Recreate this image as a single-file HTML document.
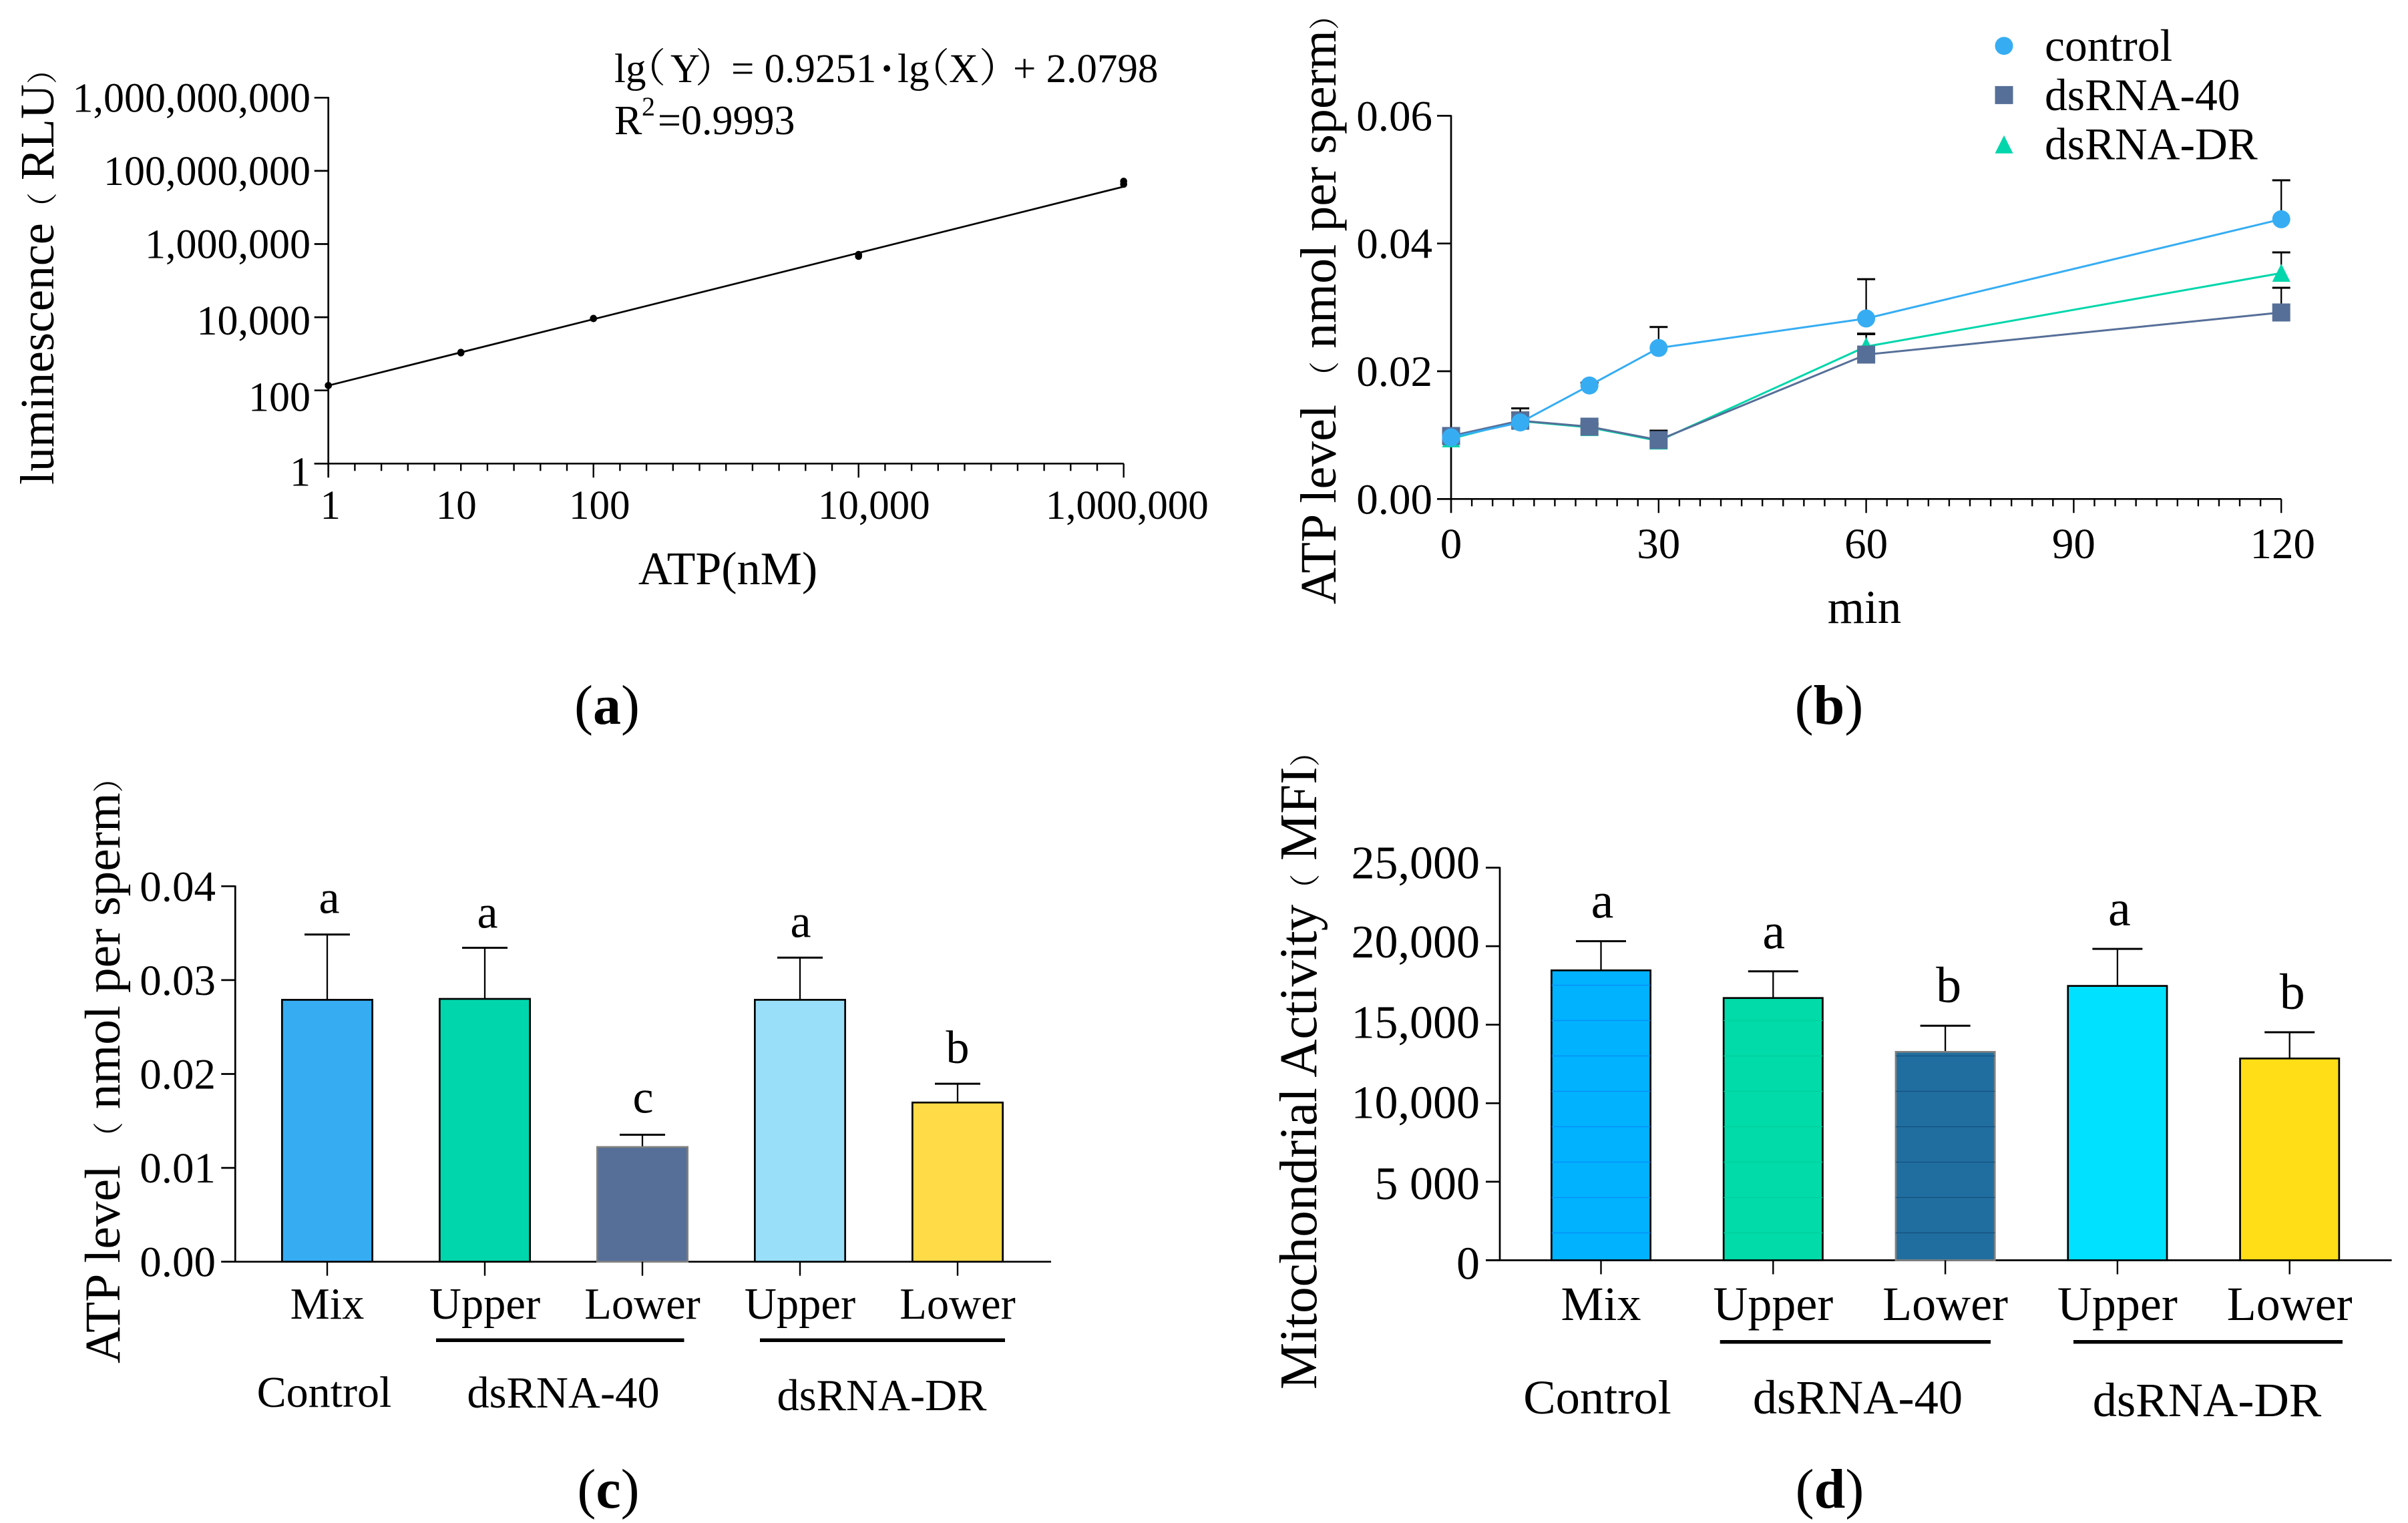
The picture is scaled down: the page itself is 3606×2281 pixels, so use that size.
<!DOCTYPE html>
<html lang="en">
<head>
<meta charset="utf-8">
<title>ATP standard curve and sperm energy panels</title>
<style>
html,body{margin:0;padding:0;background:#fff;}
svg{display:block;}
text{font-family:"Liberation Serif","Noto Serif CJK SC",serif;fill:#000;}
</style>
</head>
<body>
<svg id="fig" xmlns="http://www.w3.org/2000/svg" width="3606" height="2281" viewBox="0 0 3606 2281">
  <rect width="3606" height="2281" fill="#fff"/>

  <g id="panelA">
    <text transform="translate(80,726) rotate(-90)" font-size="72">luminescence<tspan font-size="46">（</tspan> RLU<tspan font-size="46">）</tspan></text>
    <text x="1090" y="875" font-size="70" text-anchor="middle">ATP(nM)</text>
    <text y="123" font-size="61"><tspan x="920">lg</tspan><tspan x="937" font-size="60">（</tspan><tspan x="1004">Y</tspan><tspan x="1041" font-size="60">）</tspan><tspan x="1095">= 0.9251</tspan><tspan x="1318" font-weight="bold">·</tspan><tspan x="1344">lg</tspan><tspan x="1362" font-size="60">（</tspan><tspan x="1421">X</tspan><tspan x="1466" font-size="60">）</tspan><tspan x="1517">+ 2.0798</tspan></text>
    <text y="201" font-size="62"><tspan x="920">R</tspan><tspan x="961" y="173" font-size="40">2</tspan><tspan x="985" y="201">=0.9993</tspan></text>
    <text x="909" y="1084" font-size="84" text-anchor="middle">(<tspan font-weight="bold">a</tspan>)</text>
  </g>

  <g id="panelB">
    <text transform="translate(2000,905) rotate(-90)" font-size="76">ATP level <tspan font-size="46">（</tspan> nmol per sperm<tspan font-size="46">）</tspan></text>
    <text x="2792" y="933" font-size="71" text-anchor="middle">min</text>
    <text x="2739" y="1084" font-size="84" text-anchor="middle">(<tspan font-weight="bold">b</tspan>)</text>
  </g>

  <g id="panelC">
    <text transform="translate(179,2042) rotate(-90)" font-size="75.5">ATP level <tspan font-size="46">（</tspan> nmol per sperm<tspan font-size="46">）</tspan></text>
    <text x="485.5" y="2107" font-size="66" text-anchor="middle">Control</text>
    <text x="843.5" y="2108" font-size="66.5" text-anchor="middle">dsRNA-40</text>
    <text x="1320.5" y="2112" font-size="66.5" text-anchor="middle">dsRNA-DR</text>
    <rect x="653" y="2004.5" width="371.5" height="5.5"/>
    <rect x="1138" y="2004.5" width="367" height="5.5"/>
    <text x="911" y="2258" font-size="84" text-anchor="middle">(<tspan font-weight="bold">c</tspan>)</text>
  </g>

  <g id="panelD">
    <text transform="translate(1971,2081) rotate(-90)" font-size="79">Mitochondrial Activity<tspan font-size="46">（</tspan> MFI<tspan font-size="46">）</tspan></text>
    <text x="2392" y="2117" font-size="72.5" text-anchor="middle">Control</text>
    <text x="2782" y="2117" font-size="72.5" text-anchor="middle">dsRNA-40</text>
    <text x="3305" y="2121" font-size="72.5" text-anchor="middle">dsRNA-DR</text>
    <rect x="2575.7" y="2007" width="405.3" height="5.5"/>
    <rect x="3105" y="2007" width="403" height="5.5"/>
    <text x="2740" y="2258" font-size="84" text-anchor="middle">(<tspan font-weight="bold">d</tspan>)</text>
  </g>
</svg>

<script>
/* ---------- Panel a data ---------- */
const atpDoses = [1, 10, 100, 10000, 1000000];
const lumReplicateA = [136, 1060, 9300, 520000, 52000000];
const lumReplicateB = [136, 1100, 9150, 460000, 43000000];
const fitSlope = 0.906;
const fitIntercept = 2.133;
const aXTicks = [1, 10, 100, 10000, 1000000];
const aXTickLabels = ["1", "10", "100", "10,000", "1,000,000"];
const aYTicks = [1, 100, 10000, 1000000, 100000000, 10000000000];
const aYTickLabels = ["1", "100", "10,000", "1,000,000", "100,000,000", "1,000,000,000"];

/* ---------- Panel b data ---------- */
const minutes = [0, 10, 20, 30, 60, 120];
const controlMean = [0.00965, 0.01198, 0.01777, 0.02364, 0.02826, 0.0438];
const controlTop = [0.0102, 0.0125, 0.0182, 0.02693, 0.03442, 0.0499];
const dsrna40Mean = [0.00986, 0.01226, 0.01132, 0.00923, 0.02261, 0.0292];
const dsrna40Top = [0.0103, 0.01418, 0.0118, 0.0107, 0.0259, 0.03307];
const dsrnaDrMean = [0.00944, 0.0122, 0.0112, 0.0091, 0.02387, 0.03537];
const dsrnaDrTop = [0.0099, 0.01355, 0.0117, 0.0105, 0.0258, 0.03861];
const bXTicks = [0, 30, 60, 90, 120];
const bYTicks = [0, 0.02, 0.04, 0.06];
const bYTickLabels = ["0.00", "0.02", "0.04", "0.06"];
const legendNames = ["control", "dsRNA-40", "dsRNA-DR"];

/* ---------- Panel c data ---------- */
const barNames = ["Mix", "Upper", "Lower", "Upper", "Lower"];
const cValues = [0.0279, 0.0280, 0.01222, 0.0279, 0.01696];
const cErrorTops = [0.03486, 0.03344, 0.01353, 0.03239, 0.01896];
const cLetters = ["a", "a", "c", "a", "b"];
const cYTicks = [0, 0.01, 0.02, 0.03, 0.04];
const cYTickLabels = ["0.00", "0.01", "0.02", "0.03", "0.04"];

/* ---------- Panel d data ---------- */
const dValues = [18460, 16700, 13270, 17470, 12850];
const dErrorTops = [20320, 18400, 14936, 19830, 14520];
const dLetters = ["a", "a", "b", "a", "b"];
const dYTicks = [0, 5000, 10000, 15000, 20000, 25000];
const dYTickLabels = ["0", "5 000", "10,000", "15,000", "20,000", "25,000"];

/* ---------- Helpers ---------- */
const NS = "http://www.w3.org/2000/svg";
const AXIS_W = 2.7;

function mk(parent, tag, attrs, name) {
  const el = document.createElementNS(NS, tag);
  for (const k in attrs) el.setAttribute(k, attrs[k]);
  
  
  parent.appendChild(el);
  return el;
}
function line(parent, x1, y1, x2, y2, w, color, name) {
  return mk(parent, "line", {x1, y1, x2, y2, stroke: color || "#000", "stroke-width": w || AXIS_W}, name);
}
function label(parent, str, x, y, size, anchor, name) {
  const el = mk(parent, "text", {x, y, "font-size": size, "text-anchor": anchor || "middle"}, name);
  el.textContent = str;
  return el;
}
function errorBar(parent, x, yTop, yBase, capW, name) {
  line(parent, x, yTop, x, yBase, 2.3, "#000", name + "-stem");
  line(parent, x - capW / 2, yTop, x + capW / 2, yTop, 3, "#000", name + "-cap");
}

/* ---------- Panel a ---------- */
(function () {
  const g = document.getElementById("panelA");
  const xA = v => 491.7 + 198.5 * Math.log10(v);
  const yA = v => 694.3 - 54.8 * Math.log10(v);
  line(g, xA(1), yA(1e10) - 1, xA(1), yA(1) + 21, AXIS_W, "#000", "y-axis-a");
  line(g, xA(1) - 21, yA(1), xA(1e6), yA(1), AXIS_W, "#000", "x-axis-a");
  const yBaselineNudge = [33, 31, 26, 21, 21, 21];
  aYTicks.forEach((v, i) => {
    line(g, xA(1) - 21, yA(v), xA(1), yA(v), AXIS_W, "#000", "y-tick-a");
    label(g, aYTickLabels[i], 465, yA(v) + yBaselineNudge[i], 62, "end", "y-tick-label-a");
  });
  for (let k = 1; k <= 30; k++) {
    const dec = k / 5;
    const major = k % 10 === 0;
    const xv = Math.pow(10, dec);
    line(g, xA(xv), yA(1), xA(xv), yA(1) + (major ? 21 : 11), 2.4, "#000", major ? "x-major-tick-a" : "x-minor-tick-a");
  }
  const xNudge = [3, -7, 9, 23, 5];
  aXTicks.forEach((v, i) => {
    label(g, aXTickLabels[i], xA(v) + xNudge[i], 777, 61, "middle", "x-tick-label-a");
  });
  const lgFit = lg => Math.pow(10, fitSlope * lg + fitIntercept);
  line(g, xA(atpDoses[0]), yA(lgFit(0)), xA(atpDoses[4]), yA(lgFit(6)), 2.7, "#000", "fit-line");
  atpDoses.forEach((d, i) => {
    mk(g, "circle", {cx: xA(d), cy: yA(lumReplicateA[i]), r: 5.3, fill: "#000"}, "data-point-a");
    mk(g, "circle", {cx: xA(d), cy: yA(lumReplicateB[i]), r: 5.3, fill: "#000"}, "data-point-a");
  });
})();

/* ---------- Panel b ---------- */
(function () {
  const g = document.getElementById("panelB");
  const xB = v => 2173 + 10.36 * v;
  const yB = v => 747.3 - 9565 * v;
  line(g, xB(0), yB(0.06) - 1, xB(0), yB(0) + 21, AXIS_W, "#000", "y-axis-b");
  line(g, xB(0) - 21, yB(0), xB(120), yB(0), AXIS_W, "#000", "x-axis-b");
  bYTicks.forEach((v, i) => {
    line(g, xB(0) - 21, yB(v), xB(0), yB(v), AXIS_W, "#000", "y-tick-b");
    label(g, bYTickLabels[i], 2145, yB(v) + 22, 65, "end", "y-tick-label-b");
  });
  for (let m = 3; m <= 120; m += 3) {
    const major = m % 30 === 0;
    line(g, xB(m), yB(0), xB(m), yB(0) + (major ? 21 : 11), 2.4, "#000", major ? "x-major-tick-b" : "x-minor-tick-b");
  }
  bXTicks.forEach(v => {
    label(g, String(v), xB(v) + (v === 120 ? 2 : 0), 836, 65, "middle", "x-tick-label-b");
  });

  const colors = {control: "#36ADF3", ds40: "#566F98", dr: "#00D6AB"};
  function marker(parent, kind, cx, cy, name) {
    if (kind === "circle") {
      mk(parent, "circle", {cx, cy, r: 13.5, fill: colors.control}, name);
    } else if (kind === "square") {
      mk(parent, "rect", {x: cx - 13.5, y: cy - 13.5, width: 27, height: 27, fill: colors.ds40}, name);
    } else {
      const pts = [[cx, cy - 14], [cx + 13.5, cy + 13], [cx - 13.5, cy + 13]].map(p => p.join(",")).join(" ");
      mk(parent, "polygon", {points: pts, fill: colors.dr}, name);
    }
  }
  const series = [
    {mean: dsrnaDrMean, top: dsrnaDrTop, color: colors.dr, kind: "triangle", id: "dsrna-dr"},
    {mean: dsrna40Mean, top: dsrna40Top, color: colors.ds40, kind: "square", id: "dsrna-40"},
    {mean: controlMean, top: controlTop, color: colors.control, kind: "circle", id: "control"}
  ];
  series.forEach(s => {
    minutes.forEach((m, i) => {
      errorBar(g, xB(m), yB(s.top[i]), yB(s.mean[i]), 27, "error-bar-" + s.id);
    });
  });
  series.forEach(s => {
    const pts = minutes.map((m, i) => xB(m) + "," + yB(s.mean[i])).join(" ");
    mk(g, "polyline", {points: pts, fill: "none", stroke: s.color, "stroke-width": 3}, "series-line-" + s.id);
    minutes.forEach((m, i) => marker(g, s.kind, xB(m), yB(s.mean[i]), "marker-" + s.id));
  });
  const legendKinds = ["circle", "square", "triangle"];
  const legendY = [68.7, 142.4, 216.8];
  const legendBase = [91, 165, 238.5];
  legendNames.forEach((n, i) => {
    marker(g, legendKinds[i], 3001, legendY[i], "legend-marker");
    label(g, n, 3062, legendBase[i], 67.5, "start", "legend-label");
  });
})();

/* ---------- Bar panels ---------- */
function barPanel(o) {
  const g = document.getElementById(o.id);
  const y = o.y;
  const tag = o.tag;
  line(g, o.axisX, y(o.yTicks[o.yTicks.length - 1]) - 1, o.axisX, o.baseY + 1, AXIS_W, "#000", "y-axis-" + tag);
  line(g, o.axisX - 21, o.baseY, o.axisRight, o.baseY, AXIS_W, "#000", "x-axis-" + tag);
  o.yTicks.forEach((v, i) => {
    line(g, o.axisX - 21, y(v), o.axisX, y(v), AXIS_W, "#000", "y-tick-" + tag);
    label(g, o.yLabels[i], o.labelEnd, y(v) + o.yNudge[i], o.font, "end", "y-tick-label-" + tag);
  });
  o.values.forEach((v, i) => {
    const cx = o.firstX + o.step * i;
    const half = o.barW / 2 - AXIS_W / 2;
    errorBar(g, cx, y(o.tops[i]), y(v), o.capW, "error-bar-" + tag);
    mk(g, "rect", {x: cx - half, y: y(v), width: half * 2, height: o.baseY - y(v),
      fill: o.fills[i], stroke: o.strokes[i], "stroke-width": AXIS_W}, "bar-" + tag + "-" + (i + 1));
    if (o.bands && o.bands[i]) {
      for (let by = o.baseY - 41; by > y(v) + 4; by -= 53) {
        line(g, cx - half, by, cx + half, by, 1.2, o.bands[i], "bar-band-" + tag);
      }
    }
    line(g, cx, o.baseY, cx, o.baseY + 21, 2.4, "#000", "x-tick-" + tag);
    label(g, barNames[i], cx, o.nameY, o.nameFont, "middle", "x-tick-label-" + tag);
    label(g, o.letters[i], cx + o.letterDx[i], y(o.tops[i]) - o.letterGap[i], o.letterFont, "middle", "significance-letter-" + tag);
  });
}

barPanel({
  id: "panelC", tag: "c",
  y: v => 1889.7 - 14060 * v,
  baseY: 1889.7, axisX: 352.3, axisRight: 1574, labelEnd: 323, font: 65, nameFont: 66.5, letterFont: 70,
  yTicks: cYTicks, yLabels: cYTickLabels, yNudge: [22, 22, 22, 22, 22],
  values: cValues, tops: cErrorTops, letters: cLetters,
  firstX: 490, step: 236, barW: 138, capW: 68, nameY: 1975,
  fills: ["#36ADF3", "#00D6AB", "#566F98", "#9ADFFA", "#FFDB47"],
  strokes: ["#000", "#000", "#808080", "#000", "#000"],
  letterDx: [3, 4, 1, 1, 0],
  letterGap: [32, 30, 33, 31, 31]
});

barPanel({
  id: "panelD", tag: "d",
  y: v => 1887.5 - 0.02352 * v,
  baseY: 1887.5, axisX: 2246, axisRight: 3581.6, labelEnd: 2216, font: 70, nameFont: 72, letterFont: 76,
  yTicks: dYTicks, yLabels: dYTickLabels, yNudge: [28, 26, 22, 20, 17, 16],
  values: dValues, tops: dErrorTops, letters: dLetters,
  firstX: 2397.5, step: 257.8, barW: 151, capW: 75, nameY: 1977,
  fills: ["#00B2FF", "#00DBA9", "#206E9F", "#00E1FF", "#FFDE17"],
  strokes: ["#000", "#000", "#808080", "#000", "#000"],
  bands: ["#0A8CF5", "#00CF9C", "#15507F", null, null],
  letterDx: [2, 1, 5, 3, 4],
  letterGap: [35, 34, 35, 35, 35]
});
</script>
</body>
</html>
